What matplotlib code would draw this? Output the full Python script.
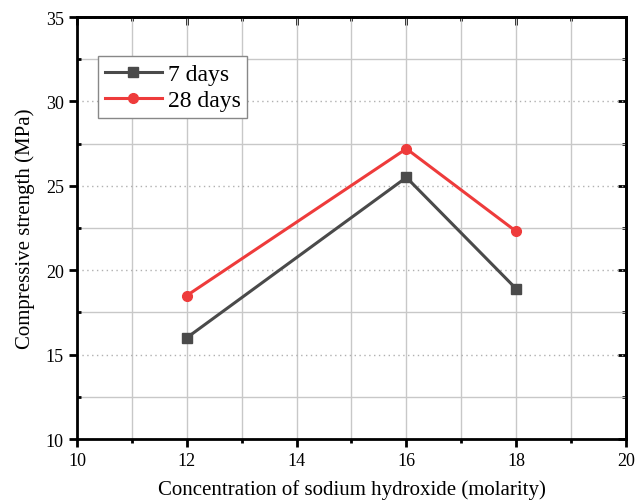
import matplotlib.pyplot as plt
from matplotlib.ticker import MultipleLocator

# data
molarity = [12, 16, 18]
days7 = [16.0, 25.5, 18.9]
days28 = [18.5, 27.2, 22.3]

plt.rcParams['font.family'] = ['Liberation Serif', 'DejaVu Serif']

fig = plt.figure(figsize=(6.44, 5.02), dpi=100)
ax = fig.add_axes([0.1196, 0.1235, 0.8524, 0.8405])

ax.plot(molarity, days7, color='#4a4a4a', lw=2.2, marker='s', ms=7, label='7 days', zorder=3)
ax.plot(molarity, days28, color='#ee3b3b', lw=2.2, marker='o', ms=7, label='28 days', zorder=3)

ax.set_xlim(10, 20)
ax.set_ylim(10, 35)
ax.xaxis.set_major_locator(MultipleLocator(2))
ax.xaxis.set_minor_locator(MultipleLocator(1))
ax.yaxis.set_major_locator(MultipleLocator(5))
ax.yaxis.set_minor_locator(MultipleLocator(2.5))

# grid: vertical solid everywhere, horizontal dotted on major / solid on minor
ax.grid(axis='x', which='both', color='#c8c8c8', lw=1, ls='-')
ax.grid(axis='y', which='major', color='#b0b0b0', lw=1, ls=(0, (1, 2.5)))
ax.grid(axis='y', which='minor', color='#c8c8c8', lw=1, ls='-')
ax.set_axisbelow(True)

for s in ax.spines.values():
    s.set_linewidth(2)

ax.tick_params(which='major', direction='out', length=6, width=2, labelsize=13,
               top=False, right=False)
ax.tick_params(axis='x', which='minor', direction='out', length=3, width=2)
ax.tick_params(axis='y', which='minor', direction='in', length=3, width=2)
sec_x = ax.secondary_xaxis('top')
sec_x.xaxis.set_major_locator(MultipleLocator(2))
sec_x.xaxis.set_minor_locator(MultipleLocator(1))
sec_x.tick_params(which='major', direction='in', length=6, width=2, labeltop=False)
sec_x.tick_params(which='minor', direction='in', length=3, width=2)
sec_x.spines['top'].set_linewidth(2)
sec_y = ax.secondary_yaxis('right')
sec_y.yaxis.set_major_locator(MultipleLocator(5))
sec_y.yaxis.set_minor_locator(MultipleLocator(2.5))
sec_y.tick_params(which='major', direction='in', length=6, width=2, labelright=False)
sec_y.tick_params(which='minor', direction='in', length=3, width=2)
sec_y.spines['right'].set_linewidth(2)

ax.set_xlabel('Concentration of sodium hydroxide (molarity)', fontsize=15, labelpad=7)
ax.set_ylabel('Compressive strength (MPa)', fontsize=15, labelpad=8)

leg = ax.legend(loc='upper left', bbox_to_anchor=(0.038, 0.907), borderaxespad=0,
                fontsize=17, fancybox=False, framealpha=1, edgecolor='#888888',
                handlelength=2.4, handletextpad=0.25, borderpad=0.3, labelspacing=0.2)
leg.get_frame().set_linewidth(1)

fig.savefig('out.png', dpi=100)
